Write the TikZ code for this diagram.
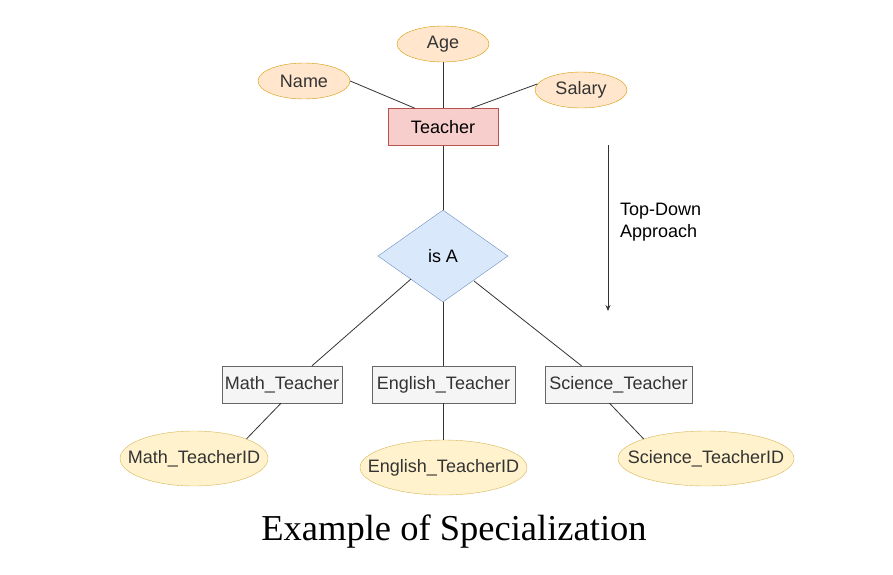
\documentclass[tikz,border=0pt]{standalone}
\usepackage{fontspec}
\setmainfont{Liberation Sans}
\newfontfamily\titlefont{Liberation Serif}
\usetikzlibrary{shapes.geometric,arrows.meta}

\definecolor{attrfill}{RGB}{255,230,204}
\definecolor{attrline}{RGB}{215,155,0}
\definecolor{keyfill}{RGB}{255,242,204}
\definecolor{keyline}{RGB}{214,182,86}
\definecolor{entfill}{RGB}{248,206,204}
\definecolor{entline}{RGB}{184,84,80}
\definecolor{isafill}{RGB}{218,232,252}
\definecolor{isaline}{RGB}{108,142,191}
\definecolor{subfill}{RGB}{245,245,245}
\definecolor{subline}{RGB}{102,102,102}
\definecolor{txtgray}{RGB}{51,51,51}

\begin{document}
\begin{tikzpicture}[x=1pt,y=1pt,yscale=-1,xscale=1,
  every node/.style={font=\fontsize{18}{22}\selectfont},
  attr/.style={ellipse,draw=attrline,fill=attrfill,text=txtgray,inner xsep=-12pt,inner ysep=-6pt,minimum width=92,minimum height=36},
  keyattr/.style={ellipse,draw=keyline,fill=keyfill,text=txtgray,inner xsep=-30pt,inner ysep=-6pt,minimum height=55},
  entity/.style={rectangle,draw=entline,fill=entfill,inner sep=0pt,minimum width=110,minimum height=37},
  subent/.style={rectangle,draw=subline,fill=subfill,text=txtgray,inner sep=0pt,minimum height=37},
  isa/.style={diamond,draw=isaline,fill=isafill,aspect=1.41,inner sep=0pt,minimum width=130,minimum height=92},
  link/.style={draw=black!80,line width=0.8}]
\useasboundingbox (0,0) rectangle (893,574);

% Entity and attributes
\node [entity] (teacher) at (443,127) {Teacher};
\node [attr] (age) at (443,44) {Age};
\node [attr] (name) at (304,81) {Name};
\node [attr] (salary) at (581,90) {Salary};

% is A
\node [isa] (isA) at (443,256) {is A};

% Sub entities
\node [subent,minimum width=120] (math) at (282,384.5) {Math\_Teacher};
\node [subent,minimum width=143] (english) at (443.5,384.5) {English\_Teacher};
\node [subent,minimum width=147] (science) at (618.5,384.5) {Science\_Teacher};

% Key attributes
\node [keyattr,minimum width=148] (mathID) at (194,458.5) {Math\_TeacherID};
\node [keyattr,minimum width=167] (englishID) at (443.5,467.5) {English\_TeacherID};
\node [keyattr,minimum width=176] (scienceID) at (706,458.5) {Science\_TeacherID};

% Straight Lines
\draw [link] (name.east) -- ([xshift=-28]teacher.north);
\draw [link] (age) -- (teacher);
\draw [link] (salary.172) -- ([xshift=28]teacher.north);
\draw [link] (teacher) -- (isA);
\draw [link] ([xshift=-32,yshift=23]isA.center) -- ([xshift=30]math.north);
\draw [link] (isA.south) -- (isA.south |- english.north);
\draw [link] ([xshift=31,yshift=25]isA.center) -- ([xshift=-37]science.north);
\draw [link] ([xshift=-1]math.south) -- (mathID.north east);
\draw [link] (english) -- (englishID);
\draw [link] ([xshift=-9]science.south) -- (scienceID.north west);

% Approach arrow
\coordinate (arrTop) at (608,145);
\coordinate (arrBot) at (608,311);
\draw [draw=black!80,line width=0.8,-{Stealth[length=6,width=5]}] (arrTop) -- (arrBot);

% Text Node
\node [anchor=west,align=left,inner sep=0pt] (approach) at (620,222) {Top-Down\\Approach};
% Text Node
\node [font=\titlefont\fontsize{36.5}{40}\selectfont] (title) at (454,532) {Example of Specialization};

\end{tikzpicture}
\end{document}
